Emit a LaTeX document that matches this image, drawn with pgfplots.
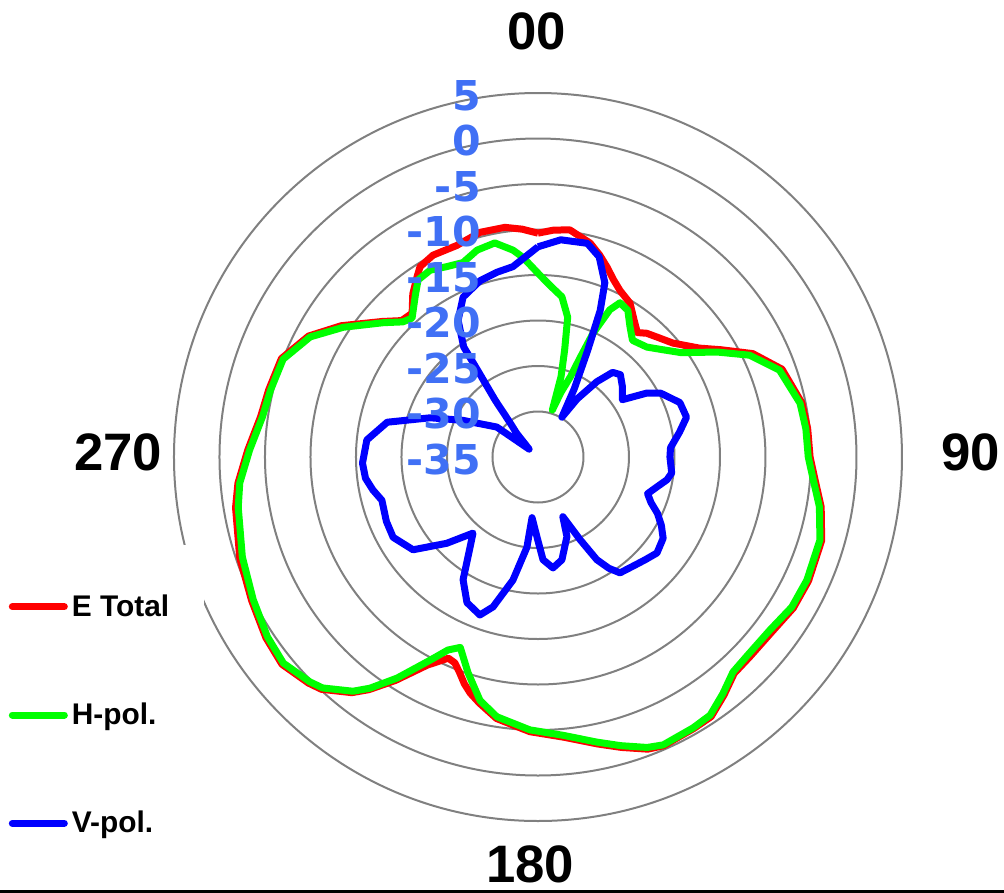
\documentclass[border=0pt]{standalone}
\usepackage{fontspec}
\setmainfont{Liberation Sans}
\newfontfamily\verdana{DejaVu Sans}
\usepackage{pgfplots}
\usepackage{pgfplotstable}
\usepgfplotslibrary{polar}
\pgfplotsset{compat=1.18}

\definecolor{ringgray}{RGB}{128,128,128}
\definecolor{labelblue}{RGB}{64,112,245}

% angle (deg, clockwise from top) and level (dB)
\pgfplotstableread{
a db
0 -10.4
4 -10.0
8 -9.8
13.7 -10.8
17 -11.8
20 -12.8
23 -13.8
26.2 -14.6
30.9 -15.3
35 -16.6
38.6 -17.5
41.3 -16.9
45 -16.4
49.8 -15.6
56 -13.6
59.6 -11.7
64.3 -8.8
70.2 -6.5
78.4 -5.4
84 -5.2
90 -5.1
95 -4.4
100 -3.4
106.4 -2.5
114.6 -2.3
120.6 -2.4
126.7 -2.9
133.3 -3.0
137.8 -2.9
142 -1.8
146.3 -0.7
150.2 -0.6
156.5 -0.4
159.4 -0.7
164 -1.8
168.3 -2.8
174.9 -4.1
181.7 -4.8
189 -5.9
193.4 -7.2
196 -8.0
198 -8.8
200 -9.8
202 -10.6
204 -10.8
206 -10.0
208 -9.1
212.5 -5.9
216 -3.4
218.3 -2.0
223 -0.1
225.4 0.4
231 1.2
236.4 0.9
243.4 0.2
251.3 -0.4
260.5 -1.3
265 -1.9
271.4 -3.1
278.3 -4.2
284 -4.5
291 -4.8
297.8 -6.5
303.7 -9.0
311 -12.3
315 -13.8
318.8 -14.0
322.5 -12.4
326 -11.2
328.2 -10.4
332.5 -10.0
339 -10.1
345.5 -9.5
351.8 -9.5
356 -9.9
360 -10.4
}\etotal

\pgfplotstableread{
a db
0 -14.8
4 -16.1
8.5 -17.2
12 -19.3
14 -22.9
16 -25.8
17 -29.6
19.5 -27.5
22 -25.5
23 -23.1
24 -20.1
26 -17.0
28 -15.8
31.5 -16.1
35 -17.4
39 -18.5
44.7 -18.0
49 -17.0
54 -15.5
59.6 -12.2
64.3 -9.2
70.2 -6.8
78.4 -5.6
84 -5.4
90 -5.3
95 -4.6
100 -3.6
106.4 -2.7
114.6 -2.5
120.6 -2.6
126.7 -3.2
133.3 -3.3
137.8 -3.1
142 -2.0
146.3 -0.9
150.2 -0.7
156.5 -0.5
159.4 -0.9
164 -2.0
168.3 -3.0
174.9 -4.3
181.7 -5.0
189 -6.1
193.4 -7.5
198 -10.1
202.2 -12.4
205 -11.6
208 -9.7
212.5 -6.2
216 -3.6
218.3 -2.2
223 -0.3
225.4 0.2
231 1.0
236.4 0.7
243.4 0.0
251.3 -0.7
260.5 -1.6
265 -2.1
271.4 -3.3
278.3 -4.4
284 -4.7
291 -5.0
297.8 -6.7
303.7 -9.3
311 -12.5
315 -14.0
317.8 -14.4
322.8 -12.7
325.9 -11.5
330 -11.3
334.4 -11.8
338.9 -12.1
343.6 -11.3
348.6 -11.0
353.1 -12.1
355.7 -13.0
360 -14.8
}\hpol

\pgfplotstableread{
a db
0 -11.9
6 -11.0
13 -10.9
17 -12.0
21 -14.5
23 -17.5
25 -22.1
28 -26.5
31 -29.9
34 -27.3
38 -24.5
41.4 -22.6
45 -22.2
50 -22.9
55.8 -23.8
59.6 -21.1
62.5 -19.8
69 -18.3
75 -18.1
80 -19.2
86 -20.4
90 -20.5
96.8 -20.2
100 -20.6
104 -21.5
108.5 -22.3
112 -21.6
115.2 -20.5
119 -19.5
123 -18.6
128.9 -18.2
134 -18.7
139 -19.1
144.7 -19.4
147.5 -20.5
150.2 -22.0
153 -24.8
157.4 -27.9
160 -25.7
166.9 -23.4
172.3 -22.7
177.2 -23.7
180.7 -26.2
185.6 -28.3
187 -25.0
191.5 -21.2
196.7 -17.8
200.2 -16.5
206 -17.2
211.4 -19.2
217 -22.6
220.5 -24.0
226.6 -21.2
233.4 -17.9
241 -16.8
247 -16.9
254.5 -17.2
258.7 -16.5
263 -15.9
268 -15.7
275.7 -16.1
283 -18.0
290 -22.4
296 -25.8
306 -29.4
311.6 -33.7
318 -31.5
321 -30.0
323 -27.2
325 -23.8
326 -20.4
329.7 -17.6
334.9 -15.6
341.9 -14.6
347.5 -14.2
352.5 -13.9
360 -11.9
}\vpol

\begin{document}
\begin{tikzpicture}
\useasboundingbox (-10.76,-8.72) rectangle (9.32,9.14);
\begin{polaraxis}[
  at={(0,0)}, anchor=center,
  scale only axis, width=14.56cm, height=14.56cm,
  xmin=0, xmax=360, ymin=0, ymax=40,
  xtick=\empty, ytick={5,10,...,35}, yticklabel={\phantom{0}},
  major tick length=0pt,
  xmajorgrids=false, ymajorgrids=true,
  grid style={ringgray, line width=0.04cm},
  separate axis lines,
  x axis line style={ringgray, line width=0.04cm},
  y axis line style={draw=none},
  clip=false,
  every axis plot/.append style={line width=0.14cm, line join=round, no markers},
  legend image code/.code={\draw[#1, line cap=round] (0cm,0cm) -- (1.04cm,0cm);},
  legend cell align=left,
  legend style={
    at={(axis description cs:-0.2754,0.1456)}, anchor=west,
    draw=none, fill=white, inner xsep=0.7cm, inner ysep=1.0cm,
    font=\fontsize{17}{20}\selectfont\bfseries,
    nodes={inner sep=0pt}, row sep=1.68cm,
    /tikz/every odd column/.append style={column sep=0.08cm},
  },
]
\addplot[red] table[x expr=90-\thisrow{a}, y expr=\thisrow{db}+35] {\etotal};
\addlegendentry{E Total}
\addplot[green] table[x expr=90-\thisrow{a}, y expr=\thisrow{db}+35] {\hpol};
\addlegendentry{H-pol.}
\addplot[blue] table[x expr=90-\thisrow{a}, y expr=\thisrow{db}+35] {\vpol};
\addlegendentry{V-pol.}

\begin{scope}[every node/.style={anchor=east, inner sep=0pt, xshift=-1.14cm, yshift=-0.05cm,
    text=labelblue, font=\verdana\fontsize{23.4}{28}\selectfont\bfseries}]
\node at (axis cs:90,40) {5};
\node at (axis cs:90,35) {0};
\node at (axis cs:90,30) {-5};
\node at (axis cs:90,25) {-10};
\node at (axis cs:90,20) {-15};
\node at (axis cs:90,15) {-20};
\node at (axis cs:90,10) {-25};
\node at (axis cs:90,5) {-30};
\node at (axis cs:90,0) {-35};
\end{scope}
\end{polaraxis}

\begin{scope}[every node/.style={inner sep=0pt, font=\fontsize{30}{36}\selectfont\bfseries}]
\node at (-0.02,8.52) {00};
\node at (8.66,0.09) {90};
\node at (-8.40,0.09) {270};
\node at (-0.16,-8.14) {180};
\end{scope}
\draw[black, line width=0.06cm] (-10.76,-8.68) -- (9.32,-8.68);
\end{tikzpicture}
\end{document}
